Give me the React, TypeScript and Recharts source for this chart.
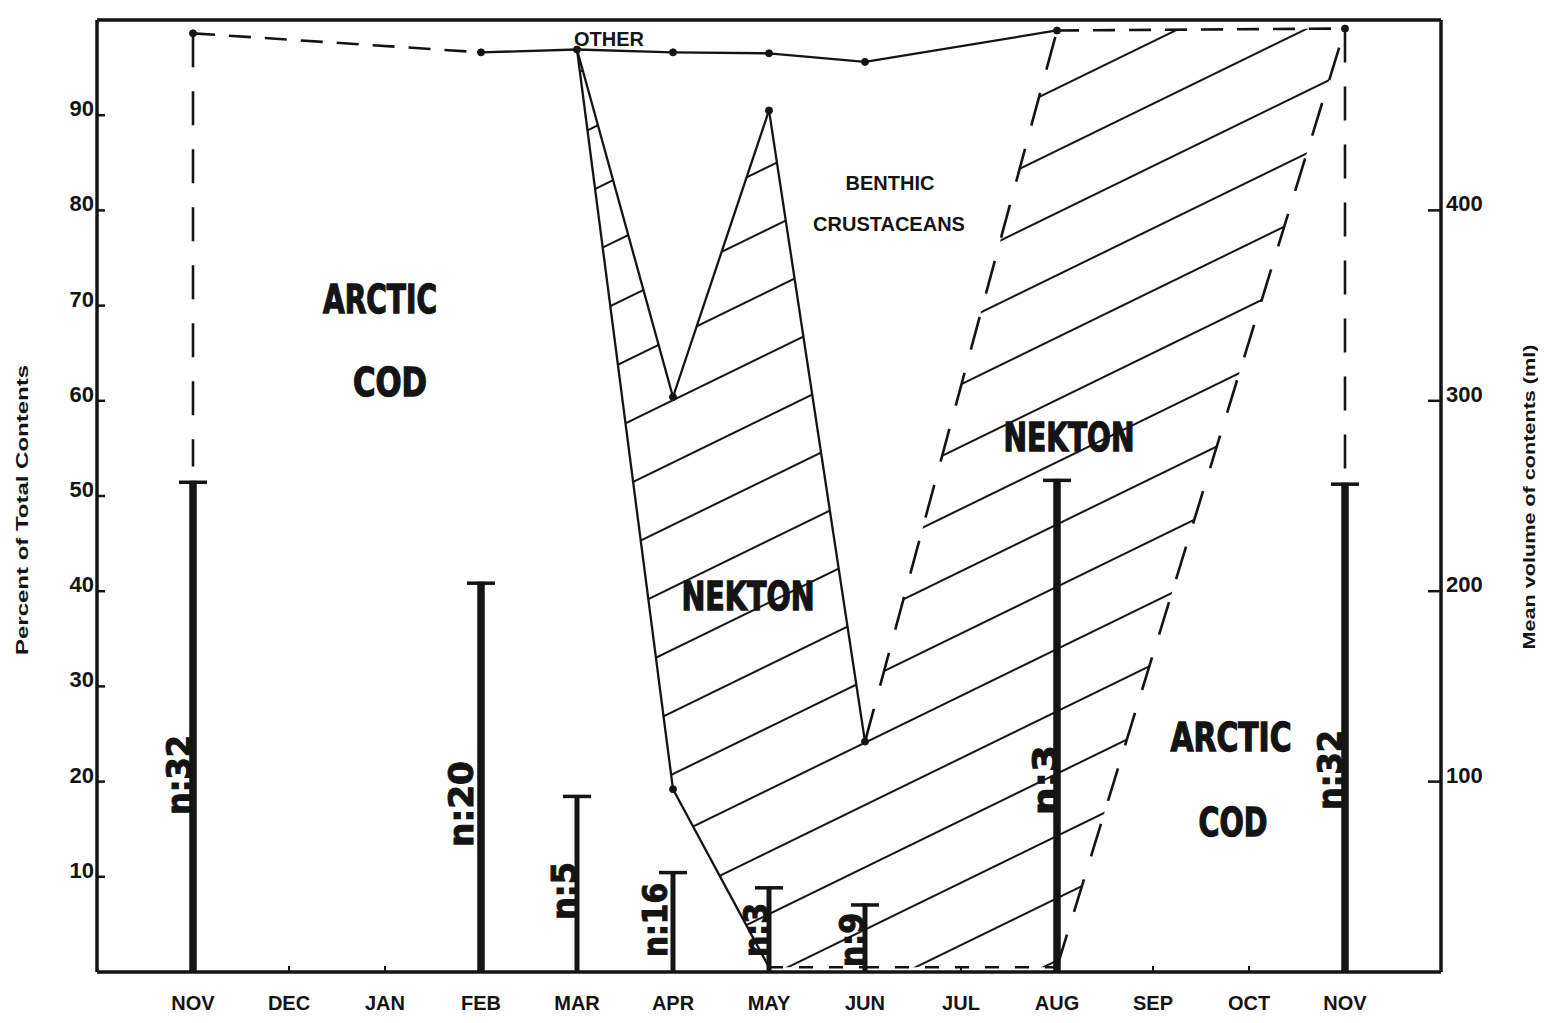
import React from "react";
import { Area, Bar, ComposedChart, Line, ReferenceLine, XAxis, YAxis } from "recharts";

const INK = "#141414";
const SANS = "'Liberation Sans', Arial, sans-serif";
const COND = "'DejaVu Sans Condensed', 'DejaVu Sans', sans-serif";

const MONTHS = ["NOV", "DEC", "JAN", "FEB", "MAR", "APR", "MAY", "JUN", "JUL", "AUG", "SEP", "OCT", "NOV"];
const PCT_TICKS = [10, 20, 30, 40, 50, 60, 70, 80, 90];
const ML_TICKS = [100, 200, 300, 400];

// sampled months (index into MONTHS), mean volume of contents (ml), sample size
const SAMPLE_MONTHS = [0, 3, 4, 5, 6, 7, 9, 12];
const MEAN_ML = [258, 205, 93, 53, 45, 36, 259, 257];
const SAMPLE_N = [32, 20, 5, 16, 3, 9, 3, 32];

// lower edge of "other" (percent)
const OTHER_MONTHS = [0, 3, 4, 5, 6, 7, 9, 12];
const OTHER_PCT = [98.6, 96.6, 96.9, 96.6, 96.5, 95.6, 98.9, 99.1];
const OTHER_STYLE = ["top", "solid", "solid", "solid", "solid", "solid", "top"];

// nekton / benthic crustaceans boundary
const NEKTON_MONTHS = [4, 5, 6, 7, 9, 12];
const NEKTON_PCT = [96.9, 60.4, 90.5, 24.2, 98.9, 99.1];
const NEKTON_STYLE = ["solid", "solid", "solid", "long", "none"];

// arctic cod / nekton boundary
const COD_MONTHS = [4, 5, 6, 7, 9, 12];
const COD_PCT = [96.9, 19.2, 0.5, 0.5, 0.5, 99.1];
const COD_STYLE = ["solid", "solid", "short", "short", "long"];

const DASH: Record<string, string | undefined> = {
  solid: undefined,
  top: "22 14",
  long: "34 24",
  short: "14 16",
};

function segments(xs: number[], ys: number[], styles: string[]) {
  return styles
    .map((s, i) => ({ style: s, data: [{ x: xs[i], y: ys[i] }, { x: xs[i + 1], y: ys[i + 1] }] }))
    .filter((s) => s.style !== "none");
}

const rows = SAMPLE_MONTHS.map((m, i) => {
  const j = NEKTON_MONTHS.indexOf(m);
  const k = COD_MONTHS.indexOf(m);
  return { x: m, ml: MEAN_ML[i], band: j >= 0 && k >= 0 ? [COD_PCT[k], NEKTON_PCT[j]] : null };
});

const lineSegs = [
  ...segments(OTHER_MONTHS, OTHER_PCT, OTHER_STYLE),
  ...segments(NEKTON_MONTHS, NEKTON_PCT, NEKTON_STYLE),
  ...segments(COD_MONTHS, COD_PCT, COD_STYLE),
];

// dashed drops from the top line to the november volume bars
const last = SAMPLE_MONTHS.length - 1;
const drops = [
  [{ x: OTHER_MONTHS[0], y: OTHER_PCT[0] }, { x: SAMPLE_MONTHS[0], y: MEAN_ML[0] / 5 + 1.5 }],
  [{ x: OTHER_MONTHS[OTHER_MONTHS.length - 1], y: OTHER_PCT[OTHER_PCT.length - 1] }, { x: SAMPLE_MONTHS[last], y: MEAN_ML[last] / 5 + 1.5 }],
];

const dots = [
  ...OTHER_MONTHS.map((m, i) => ({ x: m, y: OTHER_PCT[i] })),
  ...NEKTON_MONTHS.map((m, i) => ({ x: m, y: NEKTON_PCT[i] })).filter((p) => p.y > 5 && p.y < 95),
  ...COD_MONTHS.map((m, i) => ({ x: m, y: COD_PCT[i] })).filter((p) => p.y > 5 && p.y < 95),
];

// annotation placement (page pixels)
const N_LABEL_POS = [
  [179, 775, 80], [461, 804, 86], [564, 891, 58], [655, 920, 74],
  [756, 930, 54], [852, 940, 54], [1045, 780, 70], [1330, 770, 80],
];
const REGION_LABELS = [
  { t: "ARCTIC", x: 380, y: 299, len: 114 },
  { t: "COD", x: 390, y: 382, len: 74 },
  { t: "NEKTON", x: 748, y: 596, len: 133 },
  { t: "NEKTON", x: 1069, y: 437, len: 131 },
  { t: "ARCTIC", x: 1231, y: 737, len: 121 },
  { t: "COD", x: 1233, y: 822, len: 69 },
];
const SMALL_LABELS = [
  { t: "OTHER", x: 609, y: 39 },
  { t: "BENTHIC", x: 890, y: 183 },
  { t: "CRUSTACEANS", x: 889, y: 224 },
];

const Stem = (p: any) => {
  const cx = p.x + p.width / 2;
  const w = p.payload.ml > 150 ? 7.5 : 5;
  return (
    <g>
      <rect x={cx - w / 2} y={p.y} width={w} height={p.height} fill={INK} />
      <line x1={cx - 14} x2={cx + 14} y1={p.y + 1.5} y2={p.y + 1.5} stroke={INK} strokeWidth={3.5} />
    </g>
  );
};

const LeftTick = ({ x, y, payload }: any) => (
  <g>
    <line x1={x} x2={x + 8} y1={y} y2={y} stroke={INK} strokeWidth={2.5} />
    <text x={x - 3} y={y + 1} textAnchor="end" fontSize={22} fontWeight={700} fontFamily={SANS} fill={INK}>
      {payload.value}
    </text>
  </g>
);

const RightTick = ({ x, y, payload }: any) => (
  <g>
    <line x1={x - 13} x2={x} y1={y} y2={y} stroke={INK} strokeWidth={2.5} />
    <text x={x + 5} y={y + 1} textAnchor="start" fontSize={22} fontWeight={700} fontFamily={SANS} fill={INK}>
      {payload.value}
    </text>
  </g>
);

const MonthTick = ({ x, y, payload }: any) => (
  <g>
    <line x1={x} x2={x} y1={y} y2={y - 6} stroke={INK} strokeWidth={2} />
    <text x={x} y={y + 38} textAnchor="middle" fontSize={20} fontWeight={700} fontFamily={SANS} fill={INK}>
      {MONTHS[payload.value]}
    </text>
  </g>
);

export default function App() {
  return (
    <div style={{ position: "relative", width: 1530, height: 1007, background: "#fff" }}>
      <svg width={0} height={0} style={{ position: "absolute" }}>
        <defs>
          <pattern id="hatch" patternUnits="userSpaceOnUse" width={80} height={56} patternTransform="rotate(-26)">
            <line x1={0} y1={28} x2={80} y2={28} stroke={INK} strokeWidth={2.2} />
          </pattern>
        </defs>
      </svg>
      <ComposedChart width={1530} height={1007} data={rows} margin={{ top: 12, right: 27, bottom: 3, left: 19 }}>
        <XAxis
          xAxisId="m"
          type="number"
          dataKey="x"
          domain={[-1, 13]}
          ticks={MONTHS.map((_, i) => i)}
          interval={0}
          height={40}
          tickSize={0}
          tickMargin={0}
          tickLine={false}
          tick={<MonthTick />}
          axisLine={{ stroke: INK, strokeWidth: 3.5 }}
        />
        <YAxis
          yAxisId="pct"
          domain={[0, 100]}
          ticks={PCT_TICKS}
          width={70}
          tickSize={0}
          tickMargin={0}
          tickLine={false}
          tick={<LeftTick />}
          axisLine={{ stroke: INK, strokeWidth: 3.5 }}
        />
        <YAxis
          yAxisId="ml"
          orientation="right"
          domain={[0, 500]}
          ticks={ML_TICKS}
          width={70}
          tickSize={0}
          tickMargin={0}
          tickLine={false}
          tick={<RightTick />}
          axisLine={{ stroke: INK, strokeWidth: 3.5 }}
        />
        <ReferenceLine xAxisId="m" yAxisId="pct" y={100} stroke={INK} strokeWidth={3.5} />
        <Area
          xAxisId="m"
          yAxisId="pct"
          dataKey="band"
          type="linear"
          stroke="none"
          fill="url(#hatch)"
          fillOpacity={1}
          isAnimationActive={false}
        />
        <Bar xAxisId="m" yAxisId="ml" dataKey="ml" barSize={10} shape={<Stem />} isAnimationActive={false} />
        {lineSegs.map((s, i) => (
          <Line
            key={"seg" + i}
            xAxisId="m"
            yAxisId="pct"
            data={s.data}
            dataKey="y"
            type="linear"
            stroke={INK}
            strokeWidth={s.style === "solid" ? 2.3 : 2.6}
            strokeDasharray={DASH[s.style]}
            dot={false}
            isAnimationActive={false}
          />
        ))}
        {drops.map((d, i) => (
          <Line
            key={"drop" + i}
            xAxisId="m"
            yAxisId="pct"
            data={d}
            dataKey="y"
            type="linear"
            stroke={INK}
            strokeWidth={2.6}
            strokeDasharray="34 24"
            dot={false}
            isAnimationActive={false}
          />
        ))}
        <Line
          xAxisId="m"
          yAxisId="pct"
          data={dots}
          dataKey="y"
          stroke="none"
          dot={{ r: 3.5, fill: INK, stroke: INK }}
          isAnimationActive={false}
        />
      </ComposedChart>
      <svg width={1540} height={1016} style={{ position: "absolute", left: -8, top: -8, pointerEvents: "none" }}>
        <text
          transform="translate(22,510) rotate(-90)"
          textAnchor="middle"
          dominantBaseline="central"
          fontSize={17}
          fontWeight={700}
          fontFamily={SANS}
          fill={INK}
          textLength={290}
          lengthAdjust="spacingAndGlyphs"
        >
          Percent of Total Contents
        </text>
        <text
          transform="translate(1529,497) rotate(-90)"
          textAnchor="middle"
          dominantBaseline="central"
          fontSize={17}
          fontWeight={700}
          fontFamily={SANS}
          fill={INK}
          textLength={305}
          lengthAdjust="spacingAndGlyphs"
        >
          Mean volume of contents (ml)
        </text>
        {REGION_LABELS.map((l, i) => (
          <text
            key={"r" + i}
            x={l.x}
            y={l.y}
            textAnchor="middle"
            dominantBaseline="central"
            fontSize={39}
            fontWeight={700}
            fontFamily={COND}
            fill={INK}
            stroke={INK}
            strokeWidth={1.3}
            textLength={l.len}
            lengthAdjust="spacingAndGlyphs"
          >
            {l.t}
          </text>
        ))}
        {SMALL_LABELS.map((l, i) => (
          <text
            key={"s" + i}
            x={l.x}
            y={l.y}
            textAnchor="middle"
            dominantBaseline="central"
            fontSize={20}
            fontWeight={700}
            fontFamily={SANS}
            fill={INK}
          >
            {l.t}
          </text>
        ))}
        {N_LABEL_POS.map(([x, y, len], i) => (
          <text
            key={"n" + i}
            transform={`translate(${x},${y}) rotate(-90)`}
            textAnchor="middle"
            dominantBaseline="central"
            fontSize={33}
            fontWeight={700}
            fontFamily={COND}
            fill={INK}
            stroke={INK}
            strokeWidth={1}
            textLength={len}
            lengthAdjust="spacingAndGlyphs"
          >
            {"n:" + SAMPLE_N[i]}
          </text>
        ))}
      </svg>
    </div>
  );
}
